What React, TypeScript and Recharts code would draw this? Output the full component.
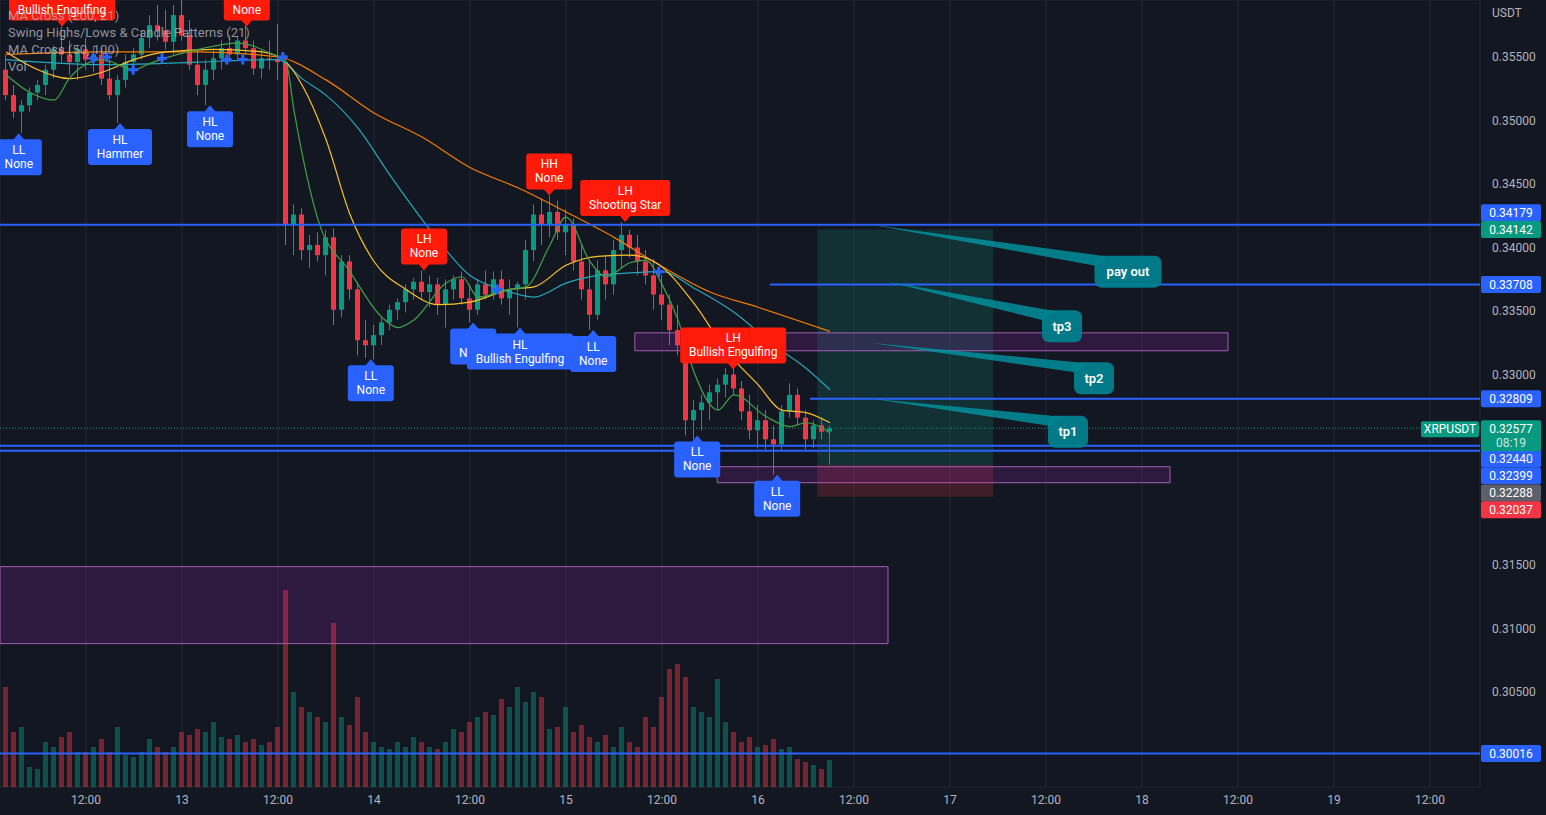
import { ComposedChart, Bar, Line, XAxis, YAxis, CartesianGrid, ReferenceLine, ReferenceArea, ReferenceDot } from 'recharts';

// XRPUSDT, 1h candles. x = hours since 12th 00:00
const FIRST_HOUR = 2;

// [open, high, low, close]
const candles: [number, number, number, number][] = [
  [0.3540, 0.3552, 0.3516, 0.3520], [0.3520, 0.3528, 0.3502, 0.3507], [0.3507, 0.3516, 0.3490, 0.3512], [0.3512, 0.3526, 0.3507, 0.3522],
  [0.3522, 0.3532, 0.3516, 0.3528], [0.3528, 0.3544, 0.3520, 0.3540], [0.3540, 0.3559, 0.3533, 0.3556], [0.3556, 0.3574, 0.3546, 0.3552],
  [0.3552, 0.3563, 0.3536, 0.3546], [0.3546, 0.3559, 0.3532, 0.3556], [0.3556, 0.3565, 0.3540, 0.3548], [0.3548, 0.3559, 0.3538, 0.3552],
  [0.3552, 0.3557, 0.3528, 0.3533], [0.3533, 0.3548, 0.3516, 0.3520], [0.3520, 0.3536, 0.3498, 0.3532], [0.3532, 0.3552, 0.3526, 0.3546],
  [0.3546, 0.3557, 0.3538, 0.3552], [0.3552, 0.3571, 0.3548, 0.3565], [0.3565, 0.3583, 0.3557, 0.3575], [0.3575, 0.3591, 0.3563, 0.3571],
  [0.3571, 0.3587, 0.3556, 0.3562], [0.3562, 0.3591, 0.3552, 0.3583], [0.3583, 0.3599, 0.3563, 0.3567], [0.3567, 0.3579, 0.3540, 0.3544],
  [0.3544, 0.3556, 0.3520, 0.3528], [0.3528, 0.3548, 0.3512, 0.3540], [0.3540, 0.3556, 0.3532, 0.3549], [0.3549, 0.3563, 0.3540, 0.3557],
  [0.3557, 0.3567, 0.3546, 0.3552], [0.3552, 0.3567, 0.3548, 0.3563], [0.3563, 0.3575, 0.3552, 0.3557], [0.3557, 0.3563, 0.3536, 0.3541],
  [0.3541, 0.3556, 0.3533, 0.3549], [0.3549, 0.3563, 0.3540, 0.3548], [0.3548, 0.3576, 0.3532, 0.3546], [0.3546, 0.3552, 0.3402, 0.3418],
  [0.3418, 0.3434, 0.3394, 0.3426], [0.3426, 0.3431, 0.3390, 0.3398], [0.3398, 0.3410, 0.3384, 0.3402], [0.3402, 0.3412, 0.3389, 0.3394],
  [0.3394, 0.3414, 0.3378, 0.3408], [0.3408, 0.3415, 0.3339, 0.3351], [0.3351, 0.3394, 0.3345, 0.3389], [0.3389, 0.3394, 0.3359, 0.3367],
  [0.3367, 0.3373, 0.3315, 0.3327], [0.3327, 0.3343, 0.3313, 0.3323], [0.3323, 0.3339, 0.3312, 0.3331], [0.3331, 0.3345, 0.3323, 0.3341],
  [0.3341, 0.3355, 0.3335, 0.3351], [0.3351, 0.3360, 0.3343, 0.3357], [0.3357, 0.3371, 0.3349, 0.3367], [0.3367, 0.3376, 0.3359, 0.3373],
  [0.3373, 0.3382, 0.3359, 0.3365], [0.3365, 0.3378, 0.3353, 0.3371], [0.3371, 0.3376, 0.3347, 0.3355], [0.3355, 0.3375, 0.3337, 0.3367],
  [0.3367, 0.3378, 0.3359, 0.3375], [0.3375, 0.3381, 0.3355, 0.3360], [0.3360, 0.3371, 0.3341, 0.3351], [0.3351, 0.3375, 0.3347, 0.3371],
  [0.3371, 0.3382, 0.3359, 0.3363], [0.3363, 0.3381, 0.3359, 0.3375], [0.3375, 0.3382, 0.3355, 0.3360], [0.3360, 0.3375, 0.3347, 0.3367],
  [0.3367, 0.3373, 0.3337, 0.3371], [0.3371, 0.3406, 0.3359, 0.3398], [0.3398, 0.3434, 0.3389, 0.3426], [0.3426, 0.3439, 0.3402, 0.3418],
  [0.3418, 0.3441, 0.3408, 0.3428], [0.3428, 0.3437, 0.3406, 0.3412], [0.3412, 0.3430, 0.3394, 0.3418], [0.3418, 0.3423, 0.3382, 0.3389],
  [0.3389, 0.3402, 0.3359, 0.3367], [0.3367, 0.3390, 0.3335, 0.3347], [0.3347, 0.3390, 0.3343, 0.3382], [0.3382, 0.3394, 0.3359, 0.3371],
  [0.3371, 0.3406, 0.3363, 0.3398], [0.3398, 0.3420, 0.3384, 0.3410], [0.3410, 0.3414, 0.3392, 0.3400], [0.3400, 0.3410, 0.3378, 0.3389],
  [0.3389, 0.3398, 0.3371, 0.3378], [0.3378, 0.3391, 0.3351, 0.3363], [0.3363, 0.3378, 0.3343, 0.3355], [0.3355, 0.3363, 0.3323, 0.3335],
  [0.3335, 0.3355, 0.3315, 0.3323], [0.3323, 0.3331, 0.3252, 0.3264], [0.3264, 0.3280, 0.3249, 0.3272], [0.3272, 0.3284, 0.3256, 0.3278],
  [0.3278, 0.3292, 0.3264, 0.3286], [0.3286, 0.3297, 0.3272, 0.3292], [0.3292, 0.3305, 0.3282, 0.3300], [0.3300, 0.3305, 0.3284, 0.3289],
  [0.3289, 0.3295, 0.3264, 0.3271], [0.3271, 0.3284, 0.3249, 0.3256], [0.3256, 0.3276, 0.3242, 0.3264], [0.3264, 0.3272, 0.3241, 0.3249],
  [0.3249, 0.3260, 0.3221, 0.3245], [0.3245, 0.3276, 0.3239, 0.3271], [0.3271, 0.3293, 0.3266, 0.3284], [0.3284, 0.3289, 0.3260, 0.3266],
  [0.3266, 0.3272, 0.3241, 0.3249], [0.3249, 0.3264, 0.3242, 0.3260], [0.3260, 0.3266, 0.3249, 0.3255], [0.3255, 0.3260, 0.3229, 0.32577],
];

// volume, millions XRP
const volumes = [
  1.00, 0.55, 0.60, 0.20, 0.18, 0.45, 0.40, 0.50, 0.55, 0.35, 0.35, 0.40, 0.48, 0.35, 0.60, 0.32,
  0.30, 0.35, 0.48, 0.40, 0.35, 0.40, 0.55, 0.52, 0.58, 0.55, 0.65, 0.50, 0.48, 0.52, 0.45, 0.48,
  0.42, 0.45, 0.60, 1.97, 0.95, 0.80, 0.75, 0.70, 0.65, 1.64, 0.70, 0.62, 0.90, 0.55, 0.45, 0.40,
  0.38, 0.45, 0.40, 0.50, 0.45, 0.40, 0.38, 0.45, 0.58, 0.55, 0.65, 0.70, 0.75, 0.72, 0.88, 0.80,
  1.00, 0.85, 0.95, 0.90, 0.58, 0.60, 0.80, 0.55, 0.62, 0.50, 0.45, 0.52, 0.40, 0.60, 0.45, 0.40,
  0.70, 0.60, 0.90, 1.18, 1.23, 1.10, 0.80, 0.75, 0.70, 1.08, 0.65, 0.55, 0.45, 0.50, 0.40, 0.42,
  0.48, 0.38, 0.40, 0.28, 0.25, 0.22, 0.18, 0.27,
];

// moving averages, [hour, price]
const ma200: [number, number][] = [
  [2, 0.3552], [14, 0.3554], [26, 0.3554], [36, 0.3550], [42, 0.3532], [48, 0.3506], [54, 0.3487], [60, 0.3463],
  [66, 0.3447], [72, 0.3428], [78, 0.3408], [84, 0.3385], [90, 0.3365], [96, 0.3353], [105, 0.3334],
];
const ma100: [number, number][] = [
  [2, 0.3548], [14, 0.3544], [26, 0.3546], [36, 0.3548], [39, 0.3533], [42, 0.3520], [46, 0.3494], [50, 0.3457],
  [55, 0.3414], [60, 0.3378], [64, 0.3367], [68, 0.3361], [72, 0.3372], [76, 0.3378], [80, 0.3380], [84, 0.3381],
  [88, 0.3368], [93, 0.3349], [98, 0.3323], [102, 0.3305], [105, 0.3288],
];
const ma50: [number, number][] = [
  [2, 0.3554], [6, 0.3540], [10, 0.3533], [14, 0.3538], [18, 0.3548], [22, 0.3554], [28, 0.3556], [34, 0.3554],
  [37, 0.3546], [39, 0.3528], [42, 0.3485], [45, 0.3426], [48, 0.3389], [52, 0.3367], [56, 0.3355], [60, 0.3357],
  [65, 0.3367], [68, 0.3369], [72, 0.3386], [76, 0.3393], [80, 0.3394], [83, 0.3389], [88, 0.3356], [92, 0.3319],
  [96, 0.3292], [99, 0.3272], [102, 0.3270], [105, 0.3262],
];
const ma21: [number, number][] = [
  [2, 0.3536], [5, 0.3522], [8, 0.3516], [10, 0.3534], [14, 0.3548], [18, 0.3540], [20, 0.3545], [26, 0.3556],
  [31, 0.3561], [35, 0.3553], [37, 0.3546], [38, 0.3508], [41, 0.3422], [45, 0.3381], [49, 0.3345], [51, 0.3337],
  [53, 0.3343], [57, 0.3372], [59, 0.3377], [61, 0.3361], [65, 0.3367], [67, 0.3369], [70, 0.3402], [72, 0.3424],
  [75, 0.3389], [77, 0.3377], [80, 0.3388], [82, 0.3390], [84, 0.3371], [86, 0.3343], [88, 0.3302], [91, 0.3272],
  [93, 0.3284], [97, 0.3267], [100, 0.3259], [102, 0.3262], [105, 0.3254],
];

// MA cross signals
const crosses: [number, number][] = [
  [12.9, 0.3549], [14.6, 0.3550], [17.9, 0.3540], [21.5, 0.3549], [29.6, 0.3548], [31.6, 0.3548], [36.6, 0.3550],
  [63.4, 0.3367], [83.6, 0.3381],
];

// swing highs / lows
const swings = [
  { t: 3.6, p: 0.3490, kind: 'LL', pattern: 'None' },
  { t: 9, p: 0.3574, kind: 'LH', pattern: 'Bullish Engulfing' },
  { t: 16.25, p: 0.3498, kind: 'HL', pattern: 'Hammer' },
  { t: 27.5, p: 0.3512, kind: 'HL', pattern: 'None' },
  { t: 32.1, p: 0.3574, kind: 'LH', pattern: 'None' },
  { t: 47.6, p: 0.3312, kind: 'LL', pattern: 'None' },
  { t: 54.25, p: 0.3382, kind: 'LH', pattern: 'None' },
  { t: 60.4, p: 0.3341, kind: 'LL', pattern: 'None' },
  { t: 66.25, p: 0.3337, kind: 'HL', pattern: 'Bullish Engulfing' },
  { t: 69.9, p: 0.3441, kind: 'HH', pattern: 'None' },
  { t: 75.4, p: 0.3335, kind: 'LL', pattern: 'None' },
  { t: 79.4, p: 0.3420, kind: 'LH', pattern: 'Shooting Star' },
  { t: 88.4, p: 0.3252, kind: 'LL', pattern: 'None' },
  { t: 92.9, p: 0.3304, kind: 'LH', pattern: 'Bullish Engulfing' },
  { t: 98.4, p: 0.3221, kind: 'LL', pattern: 'None' },
];

// drawn levels
const fullLevels = [0.34179, 0.32440, 0.32399, 0.30016];
const partLevels: [number, number][] = [[97.5, 0.33708], [102.5, 0.32809]];
const lastPrice = 0.32577;
const longPos = { from: 103.4, to: 125.4, entry: 0.32288, target: 0.34142, stop: 0.32037 };
const zones = [
  { x1: 80.6, x2: 154.75, lo: 0.33187, hi: 0.33328 },
  { x1: 90.9, x2: 147.5, lo: 0.32148, hi: 0.32274 },
  { x1: 1.25, x2: 112.25, lo: 0.30881, hi: 0.31487 },
];
const callouts = [
  { text: 'pay out', from: [110.25, 0.34179], to: [142.25, 0.3381] },
  { text: 'tp3', from: [112.25, 0.3373], to: [134, 0.3338] },
  { text: 'tp2', from: [110, 0.3325], to: [138, 0.3297] },
  { text: 'tp1', from: [110.25, 0.3281], to: [134.75, 0.3255] },
];
const priceTags = [
  { p: 0.34179, color: '#2962ff' },
  { p: 0.34142, color: '#089981' },
  { p: 0.33708, color: '#2962ff' },
  { p: 0.32809, color: '#2962ff' },
  { p: 0.32440, color: '#2962ff' },
  { p: 0.32399, color: '#2962ff' },
  { p: 0.32288, color: '#5d606b' },
  { p: 0.32037, color: '#f23645' },
  { p: 0.30016, color: '#2962ff' },
];
const priceTicks = [0.300, 0.305, 0.310, 0.315, 0.320, 0.325, 0.330, 0.335, 0.340, 0.345, 0.350, 0.355];
const timeTicks = [12, 24, 36, 48, 60, 72, 84, 96, 108, 120, 132, 144, 156, 168, 180];
const legendLines = ['MA Cross (200, 21)', 'Swing Highs/Lows & Candle Patterns (21)', 'MA Cross (50, 100)', 'Vol'];

// ---- layout / style ----
const W = 1546;
const H = 815;
const X_DOMAIN: [number, number] = [1.25, 186.25];
const P_DOMAIN: [number, number] = [0.29752, 0.35949];
const BG = '#131722';
const TXT = '#b2b5be';
const UP = '#089981';
const DOWN = '#f23645';
const BLUE = '#2962ff';
const FONT = 'Roboto, "Noto Sans", sans-serif';
const LABEL_W: Record<string, number> = { None: 46, Hammer: 64, 'Bullish Engulfing': 106, 'Shooting Star': 90 };
// tags pushed apart so they don't overlap (px)
const TAG_SHIFT: Record<string, number> = { '0.34179': -12, '0.32440': 13, '0.32399': 25, '0.32288': 28, '0.32037': 13 };

const table = candles.map(([o, h, l, c], i) => ({
  t: FIRST_HOUR + i, o, h, l, c, vol: volumes[i], up: c >= o,
}));
const maSeries = [
  { key: 'ma200', pts: ma200, color: '#f57c00' },
  { key: 'ma100', pts: ma100, color: '#26a6b8' },
  { key: 'ma50', pts: ma50, color: '#fbc02d' },
  { key: 'ma21', pts: ma21, color: '#43a047' },
].map((s) => ({ ...s, rows: s.pts.map(([t, v]) => ({ t, v })) }));

const Candle = (props: any) => {
  const { x, y, width, height, payload } = props;
  const { o, h, l, c } = payload;
  const top = Math.min(y, y + height);
  const hh = Math.abs(height);
  const span = h - l || 1e-9;
  const py = (v: number) => top + ((h - v) / span) * hh;
  const color = c >= o ? UP : DOWN;
  const cx = x + width / 2;
  const b1 = py(Math.max(o, c));
  const b2 = py(Math.min(o, c));
  return (
    <g>
      <line x1={cx} x2={cx} y1={top} y2={top + hh} stroke={color} strokeWidth={1} />
      <rect x={x} y={b1} width={width} height={Math.max(1, b2 - b1)} fill={color} />
    </g>
  );
};

const VolBar = (props: any) => (
  <rect x={props.x} y={props.y} width={props.width} height={Math.max(0, props.height)}
    fill={props.payload.up ? 'rgba(8,153,129,0.45)' : 'rgba(242,54,69,0.45)'} />
);

const Cross = (props: any) => {
  const { cx, cy } = props;
  return (
    <g fill={BLUE}>
      <rect x={cx - 5} y={cy - 1.5} width={10} height={3} />
      <rect x={cx - 1.5} y={cy - 5} width={3} height={10} />
    </g>
  );
};

const SwingLabel = ({ cx, cy, s }: any) => {
  const below = s.kind === 'LL' || s.kind === 'HL';
  const w = LABEL_W[s.pattern] ?? 46;
  const h = 36;
  const fill = below ? BLUE : '#ff1a0a';
  const top = below ? cy + 6 : cy - 6 - h;
  const edge = below ? top + 1 : top + h - 1;
  return (
    <g>
      <polygon points={`${cx - 6},${edge} ${cx + 6},${edge} ${cx},${cy}`} fill={fill} />
      <rect x={cx - w / 2} y={top} width={w} height={h} rx={3} fill={fill} />
      <text x={cx} y={top + 15} textAnchor="middle" fill="#fff" fontSize={12} fontFamily={FONT}>{s.kind}</text>
      <text x={cx} y={top + 29} textAnchor="middle" fill="#fff" fontSize={12} fontFamily={FONT}>{s.pattern}</text>
    </g>
  );
};

const Callout = ({ x1, y1, x2, y2, text }: any) => {
  const w = Math.max(40, text.length * 7 + 18);
  const h = 32;
  const bx = x2 - w / 2;
  const by = y2 - h / 2;
  return (
    <g>
      <polygon points={`${x1},${y1} ${bx + 14},${by + 1} ${bx + 1},${by + 10}`} fill="rgba(0,150,164,0.8)" />
      <rect x={bx} y={by} width={w} height={h} rx={7} fill="rgba(0,130,143,0.92)" />
      <text x={x2} y={y2 + 4.5} textAnchor="middle" fill="#fff" fontSize={13} fontWeight={600} fontFamily={FONT}>{text}</text>
    </g>
  );
};

const PriceTag = ({ cx, cy, tag }: any) => {
  const y = cy + (TAG_SHIFT[tag.p.toFixed(5)] ?? 0);
  return (
    <g>
      <rect x={cx + 1} y={y - 8.5} width={60} height={17} rx={2} fill={tag.color} />
      <text x={cx + 31} y={y + 4.5} textAnchor="middle" fill="#fff" fontSize={12} fontFamily={FONT}>{tag.p.toFixed(5)}</text>
    </g>
  );
};

const LastTag = ({ cx, cy }: any) => (
  <g>
    <rect x={cx - 59} y={cy - 7} width={58} height={16} rx={2} fill={UP} />
    <text x={cx - 30} y={cy + 5} textAnchor="middle" fill="#fff" fontSize={12} fontFamily={FONT}>XRPUSDT</text>
    <rect x={cx + 1} y={cy - 8} width={60} height={31} rx={2} fill={UP} />
    <text x={cx + 31} y={cy + 5} textAnchor="middle" fill="#fff" fontSize={12} fontFamily={FONT}>{lastPrice.toFixed(5)}</text>
    <text x={cx + 31} y={cy + 19} textAnchor="middle" fill="rgba(255,255,255,0.8)" fontSize={12} fontFamily={FONT}>08:19</text>
  </g>
);

const near = (a: number, b: number) => Math.abs(a - b) < 1e-6;
const fmtPrice = (v: number) => (near(v, 0.3) || near(v, 0.32) || near(v, 0.325) ? '' : v.toFixed(5));
const fmtTime = (t: number) => (t % 24 === 0 ? String(12 + t / 24) : '12:00');

export default function App() {
  return (
    <div style={{ position: 'fixed', left: 0, top: 0, width: W, height: H, background: BG, overflow: 'hidden', fontFamily: FONT }}>
      <ComposedChart width={W} height={H} data={table} margin={{ top: 0, right: 0, left: 0, bottom: 0 }}>
        <CartesianGrid stroke="rgba(42,46,57,0.75)" strokeWidth={1} />
        <XAxis dataKey="t" type="number" domain={X_DOMAIN} allowDataOverflow ticks={timeTicks} tickFormatter={fmtTime}
          axisLine={false} tickLine={false} tickSize={0} tickMargin={8} height={28} interval={0}
          tick={{ fill: TXT, fontSize: 12, fontFamily: FONT }} />
        <XAxis xAxisId="v" dataKey="t" type="number" domain={X_DOMAIN} allowDataOverflow hide />
        <YAxis yAxisId="p" orientation="right" domain={P_DOMAIN} allowDataOverflow ticks={priceTicks} tickFormatter={fmtPrice}
          axisLine={false} tickLine={false} tickSize={0} tickMargin={12} width={66} interval={0}
          tick={{ fill: TXT, fontSize: 12, fontFamily: FONT, textAnchor: 'start' }} />
        <YAxis yAxisId="vol" domain={[0, 7.87]} hide />

        {zones.slice(2).map((z, i) => (
          <ReferenceArea key={'zc' + i} yAxisId="p" x1={z.x1} x2={z.x2} y1={z.lo} y2={z.hi}
            fill="rgba(156,39,176,0.2)" fillOpacity={1} stroke="rgba(186,104,200,0.85)" strokeWidth={1} ifOverflow="visible" />
        ))}

        <Bar xAxisId="v" yAxisId="vol" dataKey="vol" barSize={5} shape={VolBar} isAnimationActive={false} />

        <ReferenceArea yAxisId="p" x1={longPos.from} x2={longPos.to} y1={longPos.entry} y2={longPos.target}
          fill="rgba(8,153,129,0.2)" fillOpacity={1} />
        <ReferenceArea yAxisId="p" x1={longPos.from} x2={longPos.to} y1={longPos.stop} y2={longPos.entry}
          fill="rgba(242,54,69,0.2)" fillOpacity={1} />
        {zones.slice(0, 2).map((z, i) => (
          <ReferenceArea key={'z' + i} yAxisId="p" x1={z.x1} x2={z.x2} y1={z.lo} y2={z.hi}
            fill="rgba(156,39,176,0.2)" fillOpacity={1} stroke="rgba(186,104,200,0.85)" strokeWidth={1} />
        ))}

        <Bar yAxisId="p" dataKey={(d: any) => [d.l, d.h]} barSize={5} shape={Candle} isAnimationActive={false} />

        {maSeries.map((s) => (
          <Line key={s.key} yAxisId="p" data={s.rows} dataKey="v" stroke={s.color} strokeWidth={1.2} dot={false} activeDot={false}
            type="monotone" isAnimationActive={false} />
        ))}

        <ReferenceLine yAxisId="p" y={lastPrice} stroke={UP} strokeDasharray="1 2" strokeWidth={1} />
        {fullLevels.map((p) => (
          <ReferenceLine key={p} yAxisId="p" y={p} stroke={BLUE} strokeWidth={2} />
        ))}
        {partLevels.map(([t, p]) => (
          <ReferenceLine key={p} yAxisId="p" segment={[{ x: t, y: p }, { x: X_DOMAIN[1], y: p }]} stroke={BLUE} strokeWidth={2} />
        ))}

        {crosses.map(([t, p], i) => (
          <ReferenceDot key={'x' + i} yAxisId="p" x={t} y={p} r={0} shape={Cross} ifOverflow="visible" />
        ))}

        {swings.map((s, i) => (
          <ReferenceDot key={'s' + i} yAxisId="p" x={s.t} y={s.p} r={0} ifOverflow="visible"
            shape={(p: any) => <SwingLabel cx={p.cx} cy={p.cy} s={s} />} />
        ))}

        {callouts.map((c) => (
          <ReferenceLine key={c.text} yAxisId="p" ifOverflow="visible"
            segment={[{ x: c.from[0], y: c.from[1] }, { x: c.to[0], y: c.to[1] }]}
            shape={(p: any) => <Callout x1={p.x1} y1={p.y1} x2={p.x2} y2={p.y2} text={c.text} />} />
        ))}

        {priceTags.map((tag) => (
          <ReferenceDot key={'tag' + tag.p} yAxisId="p" x={X_DOMAIN[1]} y={tag.p} r={0} ifOverflow="visible"
            shape={(p: any) => <PriceTag cx={p.cx} cy={p.cy} tag={tag} />} />
        ))}
        <ReferenceDot yAxisId="p" x={X_DOMAIN[1]} y={lastPrice} r={0} ifOverflow="visible"
          shape={(p: any) => <LastTag cx={p.cx} cy={p.cy} />} />
      </ComposedChart>

      <div style={{ position: 'absolute', left: 8, top: 7, color: 'rgba(178,181,190,0.8)', fontSize: 13, lineHeight: '17px', pointerEvents: 'none' }}>
        {legendLines.map((l) => (
          <div key={l}>{l}</div>
        ))}
      </div>
      <div style={{ position: 'absolute', left: 1492, top: 6, color: TXT, fontSize: 12 }}>USDT</div>
    </div>
  );
}
